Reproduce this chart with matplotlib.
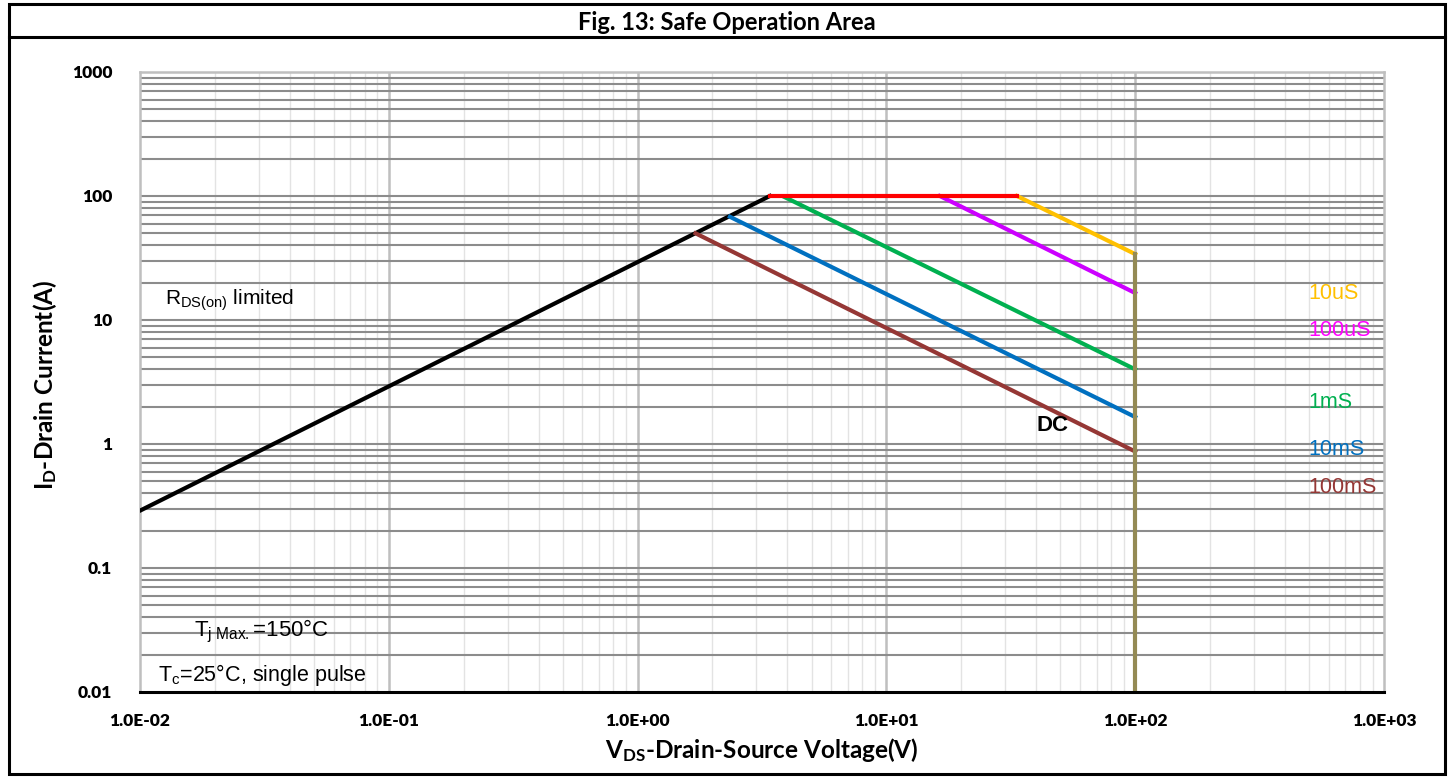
#!/usr/bin/env python3
# -*- coding: utf-8 -*-
"""
Safe Operation Area chart (Fig. 13)
"""

import numpy as np
import matplotlib
matplotlib.use('Agg')
import matplotlib.pyplot as plt
from matplotlib.patches import Rectangle
from matplotlib.lines import Line2D
from matplotlib.ticker import FixedLocator, NullFormatter, FixedFormatter

plt.rcParams['mathtext.default'] = 'regular'

# --- data (V, A) ---
rds_v = [0.01, 3.4]
rds_i = [0.29, 100]
flat_v = [3.4, 33.5]
flat_i = [100, 100]
us10_v = [33.5, 100]
us10_i = [100, 34]
us100_v = [16.4, 100]
us100_i = [100, 16.5]
ms1_v = [3.9, 100]
ms1_i = [98, 4.0]
ms10_v = [2.35, 100]
ms10_i = [68, 1.65]
ms100_v = [1.71, 100]
ms100_i = [50, 0.87]
vmax_v = [100, 100]
vmax_i = [34, 0.01]

x_ticks = [1e-2, 1e-1, 1e0, 1e1, 1e2, 1e3]
x_tick_labels = ['1.0E-02', '1.0E-01', '1.0E+00', '1.0E+01', '1.0E+02', '1.0E+03']
y_ticks = [0.01, 0.1, 1, 10, 100, 1000]
y_tick_labels = ['0.01', '0.1', '1', '10', '100', '1000']

pulse_labels = ['10uS', '100uS', '1mS', '10mS', '100mS']
pulse_label_y = [16.5, 8.3, 2.15, 0.9, 0.45]
pulse_colors = ['#FFC000', '#FF00FF', '#00B050', '#0070C0', '#953735']

W, H = 1453, 778
fig = plt.figure(figsize=(W / 100, H / 100), dpi=100)
ax = fig.add_axes([140 / W, (H - 692) / H, (1384 - 140) / W, (692 - 72) / H])

ax.set_xscale('log')
ax.set_yscale('log')
ax.set_xlim(1e-2, 1e3)
ax.set_ylim(1e-2, 1e3)

# grid: Excel style
minor_x = [m * 10.0 ** e for e in range(-2, 3) for m in range(2, 10)]
minor_y = [m * 10.0 ** e for e in range(-2, 3) for m in range(2, 10)]
for v in minor_x:
    ax.axvline(v, color='#E3E3E3', linewidth=1, zorder=0)
for v in x_ticks[1:-1]:
    ax.axvline(v, color='#BFBFBF', linewidth=1.8, zorder=0.5)
for v in minor_y + y_ticks[1:-1]:
    ax.axhline(v, color='#8C8C8C', linewidth=1.5, zorder=1)

lw = 3
ax.plot(rds_v, rds_i, color='black', linewidth=lw, zorder=3)
ax.plot(ms100_v, ms100_i, color='#953735', linewidth=lw, zorder=3)
ax.plot(ms10_v, ms10_i, color='#0070C0', linewidth=lw, zorder=3)
ax.plot(ms1_v, ms1_i, color='#00B050', linewidth=lw, zorder=3)
ax.plot(us100_v, us100_i, color='#CC00FF', linewidth=lw, zorder=3)
ax.plot(us10_v, us10_i, color='#FFC000', linewidth=lw, zorder=3)
ax.plot(flat_v, flat_i, color='#FF0000', linewidth=lw, zorder=4)
ax.plot(vmax_v, vmax_i, color='#948A54', linewidth=lw, zorder=4)

# ticks
ax.xaxis.set_major_locator(FixedLocator(x_ticks))
ax.xaxis.set_major_formatter(FixedFormatter(x_tick_labels))
ax.xaxis.set_minor_formatter(NullFormatter())
ax.yaxis.set_major_locator(FixedLocator(y_ticks))
ax.yaxis.set_major_formatter(FixedFormatter(y_tick_labels))
ax.yaxis.set_minor_formatter(NullFormatter())
ax.tick_params(which='both', length=0)
ax.tick_params(axis='x', pad=15)
ax.tick_params(axis='y', pad=20)
for lab in ax.get_xticklabels() + ax.get_yticklabels():
    lab.set_fontfamily('Lato')
    lab.set_fontweight('heavy')
    lab.set_fontsize(12.5)

for side in ['left', 'right', 'top']:
    ax.spines[side].set_color('#BFBFBF')
    ax.spines[side].set_linewidth(1.8)
ax.spines['bottom'].set_color('black')
ax.spines['bottom'].set_linewidth(2.2)
ax.spines['bottom'].set_zorder(5)

# axis labels
fig.text(45 / W, 1 - 385 / H, 'I$_D$-Drain Current(A)', rotation=90, ha='center', va='center',
         fontsize=17.5, fontweight='bold', family='Lato')
fig.text(762 / W, 1 - 750 / H, 'V$_{DS}$-Drain-Source Voltage(V)', ha='center', va='center',
         fontsize=17.5, fontweight='bold', family='Lato')

# title and frames
fig.text(0.5, 1 - 22 / H, 'Fig. 13: Safe Operation Area', ha='center', va='center',
         fontsize=17, fontweight='bold', family='Lato')
fig.patches.append(Rectangle((9 / W, 4 / H), (1445 - 9) / W, (774 - 4) / H, transform=fig.transFigure,
                             fill=False, edgecolor='black', linewidth=2.2))
fig.lines.append(Line2D([9 / W, 1445 / W], [1 - 37 / H, 1 - 37 / H], transform=fig.transFigure,
                        color='black', linewidth=2.2))

# annotations
arial = 'Liberation Sans'
for lab, yv, col in zip(pulse_labels, pulse_label_y, pulse_colors):
    ax.text(495, yv, lab, color=col, fontsize=15.5, family=arial, va='center', ha='left')
ax.text(40, 1.4, 'DC', fontsize=16, fontweight='bold', family=arial, va='center', ha='left')
ax.text(0.0126, 14.5, 'R$_{DS(on)}$ limited', fontsize=15, family=arial, va='center', ha='left')
ax.text(0.0165, 0.0305, 'T$_{j\\;Max.}$=150°C', fontsize=16, family=arial, va='center', ha='left')
ax.text(0.0118, 0.0137, 'T$_c$=25°C, single pulse', fontsize=15.5, family=arial, va='center', ha='left')

fig.savefig('out.png', dpi=100, facecolor='white')
